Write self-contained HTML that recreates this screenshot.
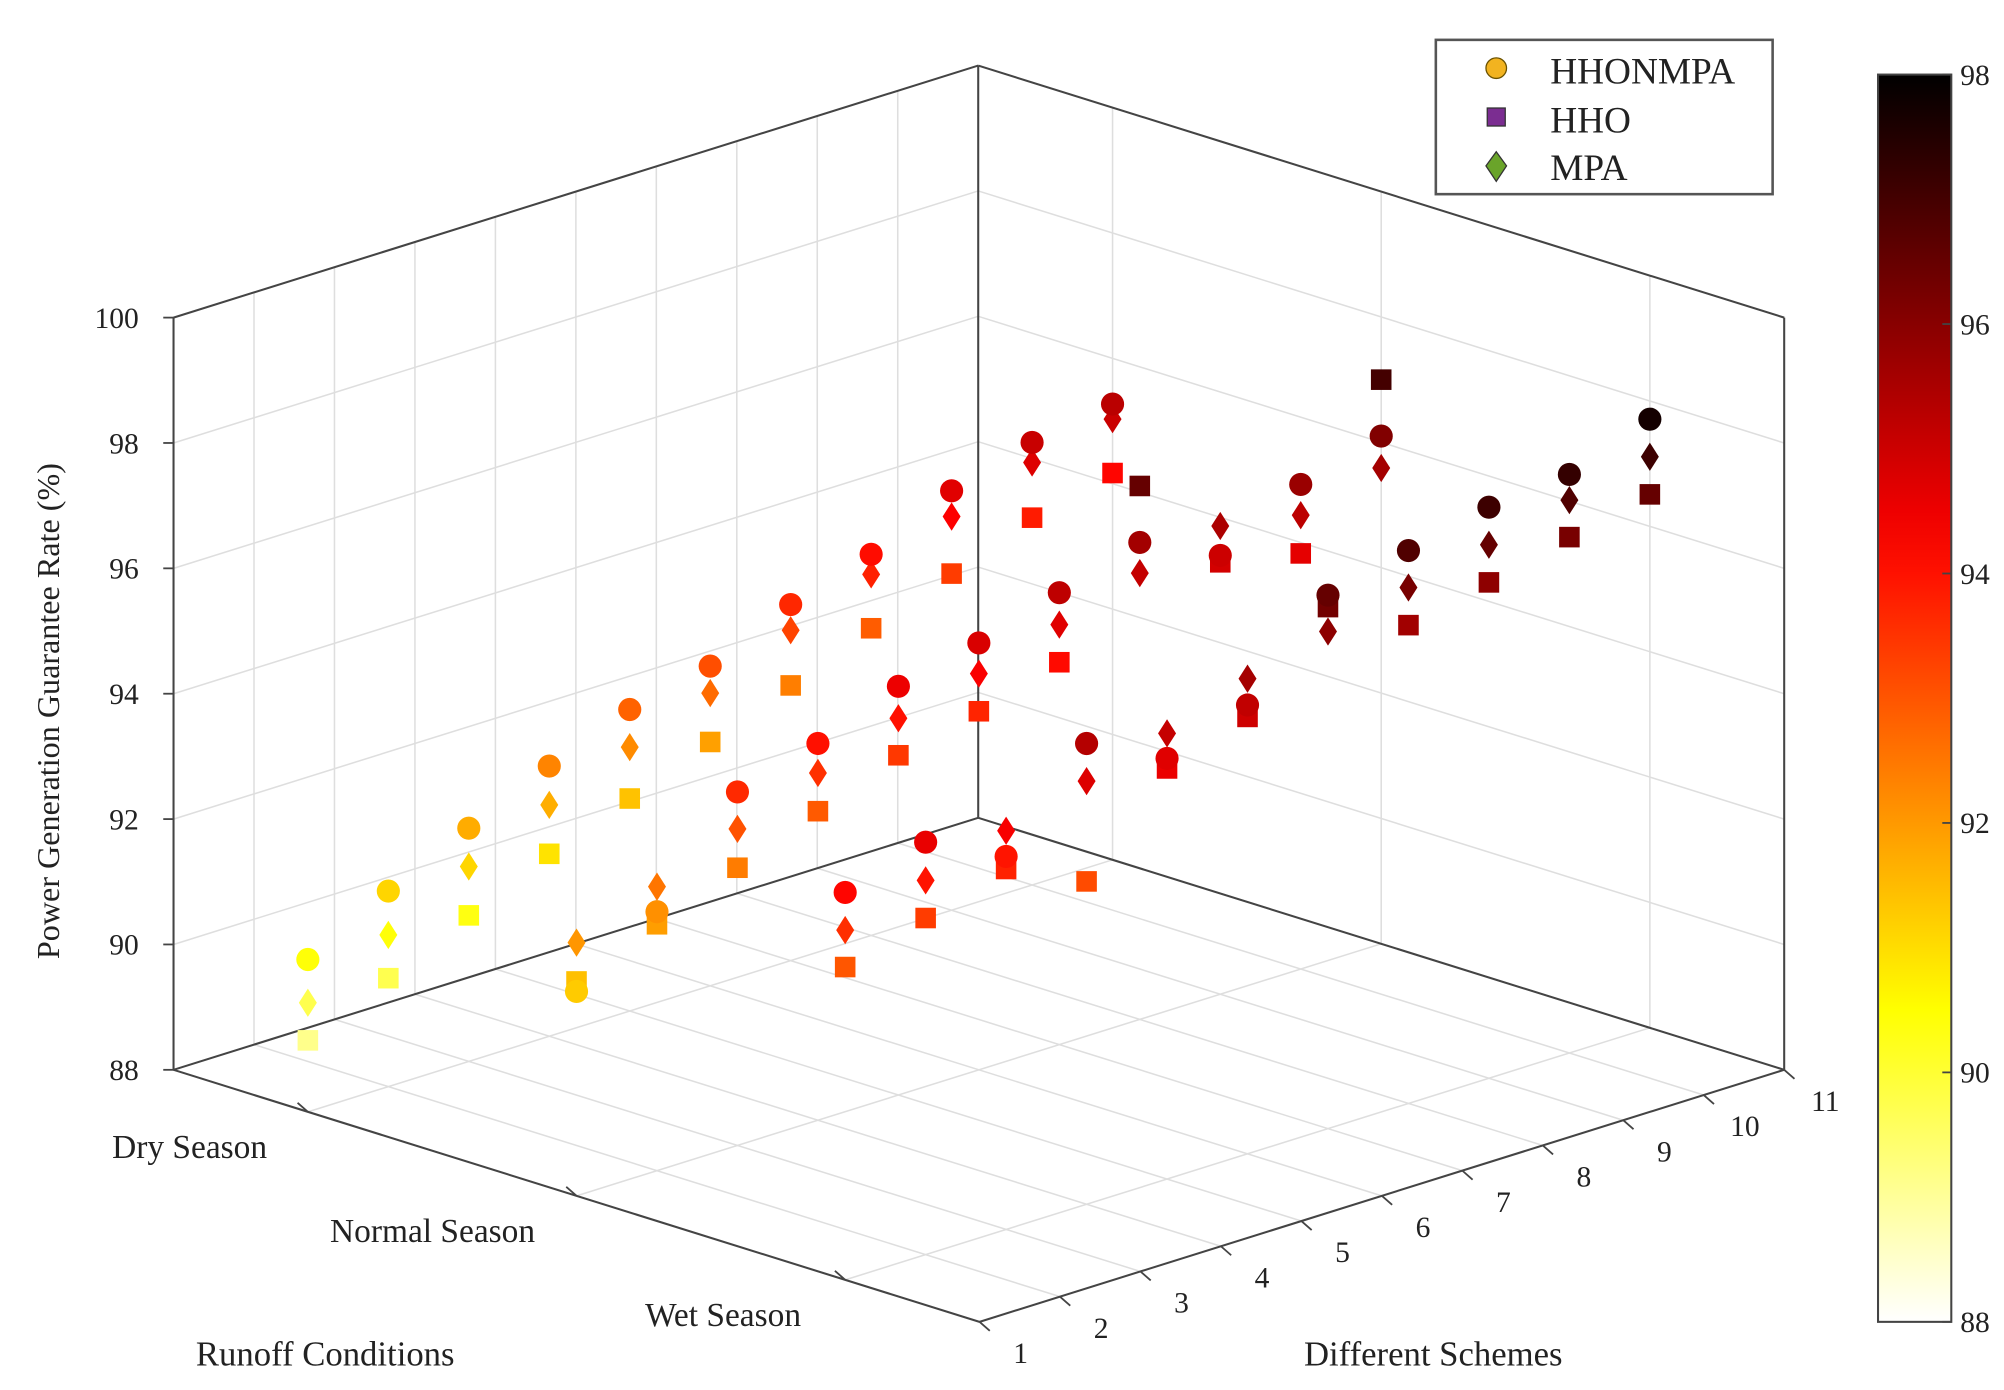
<!DOCTYPE html>
<html><head><meta charset="utf-8">
<style>
html,body{margin:0;padding:0;background:#fff;}
svg{display:block;}
text{font-family:"Liberation Serif",serif;fill:#222;}
</style></head>
<body>
<svg id="chart" width="2004" height="1390" viewBox="0 0 1559 1081" preserveAspectRatio="none" xmlns="http://www.w3.org/2000/svg">
<g id="grid"></g>
<g id="axes"></g>
<g id="marks"></g>
<g id="legend">
  <rect x="1117" y="31" width="262" height="120" fill="#fff" stroke="#555" stroke-width="2"/>
  <g>
    <circle cx="1164" cy="53" r="8" fill="#f2b320" stroke="#6b5200" stroke-width="1"/>
    <text x="1206" y="65" font-size="29">HHONMPA</text>
  </g>
  <g>
    <rect x="1157" y="84" width="14" height="14" fill="#7b2d91" stroke="#333" stroke-width="1"/>
    <text x="1206" y="103" font-size="29">HHO</text>
  </g>
  <g>
    <polygon points="1164,118 1172,129 1164,141 1156,129" fill="#6aa42a" stroke="#333" stroke-width="1"/>
    <text x="1206" y="140" font-size="29">MPA</text>
  </g>
</g>
<g id="colorbar"></g>
</svg>
<script>
const seasons = ["Dry Season","Normal Season","Wet Season"];
const schemes = [1,2,3,4,5,6,7,8,9,10,11];
const zTicks = [88,90,92,94,96,98,100];
const cbTicks = [88,90,92,94,96,98];
// HHONMPA (circles), HHO (squares), MPA (diamonds) per season, schemes 1..11
const hhonmpaDry    = [90.43,91.12,91.72,92.31,92.81,93.10,93.68,94.08,94.69,95.06,95.27];
const hhonmpaNormal = [91.26,92.13,93.64,94.01,94.52,94.81,95.21,95.61,95.00,95.73,96.10];
const hhonmpaWet    = [94.18,94.58,93.95,95.35,94.71,95.16,96.51,96.82,97.11,97.23,97.71];
const hhoDry        = [89.14,89.73,90.33,90.91,91.39,91.89,92.39,92.90,93.37,93.86,94.17];
const hhoNormal     = [91.42,91.93,92.43,92.93,93.42,93.72,94.10,96.51,94.89,94.63,97.00];
const hhoWet        = [92.99,93.37,93.75,93.15,94.55,94.97,96.32,95.63,95.91,96.23,96.51];
const mpaDry        = [89.74,90.42,91.11,91.69,92.21,92.67,93.27,93.76,94.28,94.74,95.03];
const mpaNormal     = [92.04,92.53,93.05,93.54,94.01,94.32,94.70,95.12,95.47,95.24,95.59];
const mpaWet        = [93.58,93.97,94.36,94.75,95.11,95.58,95.93,96.23,96.51,96.82,97.11];

const NS="http://www.w3.org/2000/svg";
function mk(tag, attrs, parent){const e=document.createElementNS(NS,tag);for(const k in attrs)e.setAttribute(k,attrs[k]);parent.appendChild(e);return e;}
const L=[135,832], F=[762,1028], R=[1388,832];
const zMin=88, zMax=100, zPx=585/12;
function uOf(i){return (i+0.5)/seasons.length;}
function vOf(s){return (s-1)/10;}
function proj(u,v,z){return [L[0]+u*(F[0]-L[0])+v*(R[0]-F[0]), L[1]+u*(F[1]-L[1])+v*(R[1]-F[1]) - (z-zMin)*zPx];}
function hot(z){let h=1-(z-88)/10;h=Math.max(0,Math.min(1,h));
  const r=Math.min(1,h/0.375),g=Math.max(0,Math.min(1,(h-0.375)/0.375)),b=Math.max(0,Math.min(1,(h-0.75)/0.25));
  return `rgb(${Math.round(r*255)},${Math.round(g*255)},${Math.round(b*255)})`;}

const grid=document.getElementById('grid'), axes=document.getElementById('axes');
const gc="#dedede";
function line(p,q,par,col,w){return mk('line',{x1:p[0],y1:p[1],x2:q[0],y2:q[1],stroke:col,'stroke-width':w},par);}
schemes.forEach(s=>{const l=line(proj(0,vOf(s),zMin),proj(0,vOf(s),zMax),grid,gc,1.2);

});
zTicks.forEach(z=>{line(proj(0,0,z),proj(0,1,z),grid,gc,1.2);line(proj(0,1,z),proj(1,1,z),grid,gc,1.2);});
seasons.forEach((s,i)=>{line(proj(uOf(i),1,zMin),proj(uOf(i),1,zMax),grid,gc,1.2);});
schemes.forEach(s=>{line(proj(0,vOf(s),zMin),proj(1,vOf(s),zMin),grid,gc,1.2);});
seasons.forEach((s,i)=>{line(proj(uOf(i),0,zMin),proj(uOf(i),1,zMin),grid,gc,1.2);});
const ac="#444";
[[[0,0,88],[1,0,88]],[[1,0,88],[1,1,88]],[[0,0,88],[0,1,88]],[[0,1,88],[1,1,88]],
 [[0,0,88],[0,0,100]],[[0,1,88],[0,1,100]],[[1,1,88],[1,1,100]],
 [[0,0,100],[0,1,100]],[[0,1,100],[1,1,100]]].forEach(e=>line(proj(...e[0]),proj(...e[1]),axes,ac,1.6));
zTicks.forEach(z=>{const p=proj(0,0,z);line([p[0]-8,p[1]],p,axes,ac,1.4);
 const t=mk('text',{x:p[0]-27,y:p[1]+8,'font-size':23,'text-anchor':'end'},axes);t.textContent=z;
 
 });
const seasonOff=[-92,-112,-95];
seasons.forEach((s,i)=>{const p=proj(uOf(i),0,88);line(p,[p[0]-8,p[1]-7],axes,ac,1.4);
 const t=mk('text',{x:p[0]+seasonOff[i],y:p[1]+36,'font-size':26,'text-anchor':'middle'},axes);t.textContent=s;
 
 });
schemes.forEach(s=>{const p=proj(1,vOf(s),88);line(p,[p[0]+8,p[1]+7],axes,ac,1.4);
 const t=mk('text',{x:p[0]+32,y:p[1]+32,'font-size':23,'text-anchor':'middle'},axes);t.textContent=s;
 
 });
let t;
t=mk('text',{x:253,y:1062,'font-size':27,'text-anchor':'middle'},axes);t.textContent="Runoff Conditions";


t=mk('text',{x:1115,y:1062,'font-size':27,'text-anchor':'middle'},axes);t.textContent="Different Schemes";


t=mk('text',{x:0,y:0,'font-size':25,'text-anchor':'middle',transform:'translate(46,553) rotate(-90)'},axes);t.textContent="Power Generation Guarantee Rate (%)";



const marks=document.getElementById('marks');
const series=[
 {name:'hho',shape:'square',data:[hhoDry,hhoNormal,hhoWet]},
 {name:'mpa',shape:'diamond',data:[mpaDry,mpaNormal,mpaWet]},
 {name:'hhonmpa',shape:'circle',data:[hhonmpaDry,hhonmpaNormal,hhonmpaWet]}];
series.forEach(sr=>{sr.data.forEach((arr,i)=>{arr.forEach((z,k)=>{
  const p=proj(uOf(i),vOf(schemes[k]),z);const c=hot(z);let el;
  if(sr.shape==='circle') el=mk('circle',{cx:p[0],cy:p[1],r:9,fill:c},marks);
  else if(sr.shape==='square') el=mk('rect',{x:p[0]-8,y:p[1]-8,width:16,height:16,fill:c},marks);
  else el=mk('polygon',{points:`${p[0]},${p[1]-11} ${p[0]+7},${p[1]} ${p[0]},${p[1]+11} ${p[0]-7},${p[1]}`,fill:c},marks);
  
  
});});});

const cb=document.getElementById('colorbar');
const defs=mk('defs',{},cb);const lg=mk('linearGradient',{id:'hotg',x1:0,y1:1,x2:0,y2:0},defs);
for(let i=0;i<=20;i++){const z=88+i*0.5;mk('stop',{offset:(i/20),'stop-color':hot(z)},lg);}
const cbTop=58, cbBot=1028;
mk('rect',{x:1461,y:cbTop,width:57,height:cbBot-cbTop,fill:'url(#hotg)',stroke:'#444','stroke-width':1.6},cb);
cbTicks.forEach(v=>{const y=cbBot-(v-88)/10*(cbBot-cbTop);
 line([1511,y],[1518,y],cb,'#444',1.4);
 const tt=mk('text',{x:1525,y:y+8,'font-size':23},cb);tt.textContent=v;
 
 });
</script>
</body></html>
